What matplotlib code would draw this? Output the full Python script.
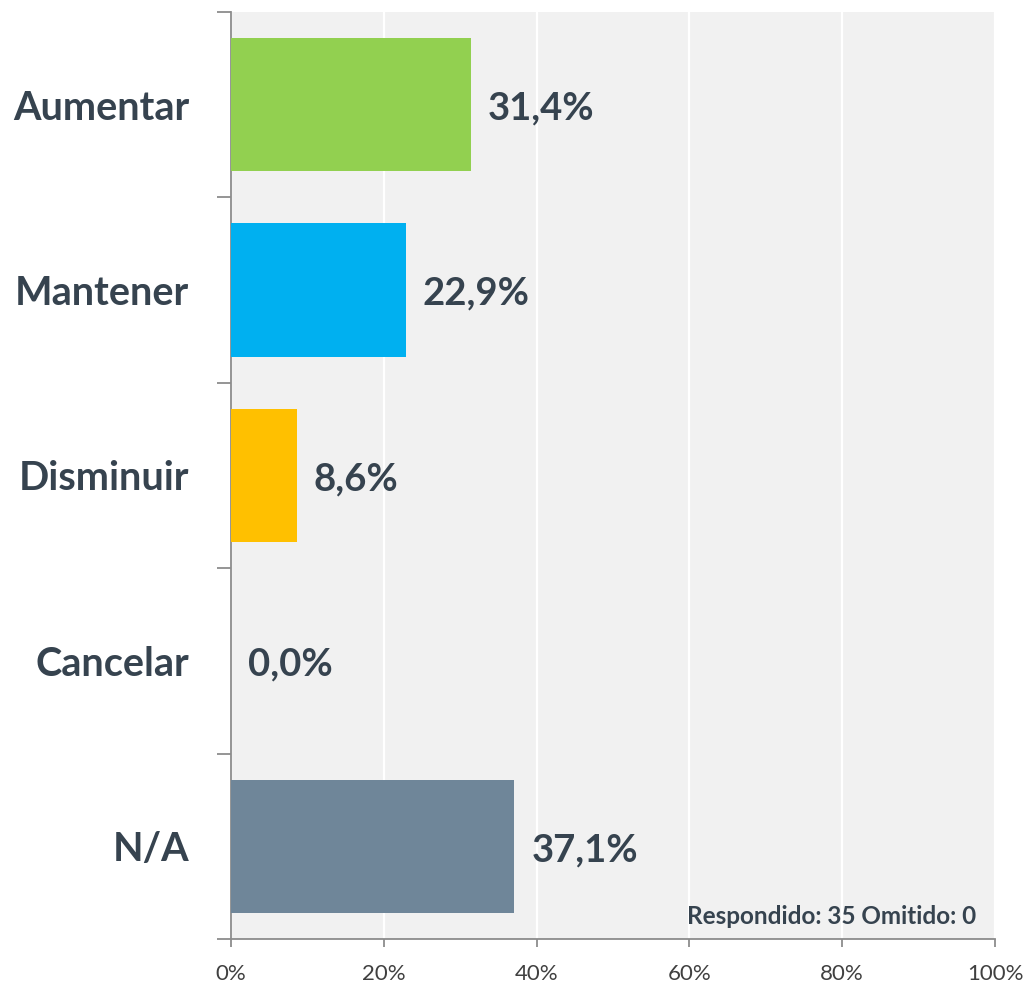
import matplotlib
matplotlib.use("Agg")
import matplotlib.pyplot as plt
import numpy as np

# Survey answers and their shares (percent)
categories = ["Aumentar", "Mantener", "Disminuir", "Cancelar", "N/A"]
values = [31.4, 22.9, 8.6, 0.0, 37.1]
colors = ["#92d050", "#00b0f0", "#ffc000", "#a0a0a0", "#6f8699"]
xticks = [0, 20, 40, 60, 80, 100]
note = "Respondido: 35 Omitido: 0"

text_color = "#36434f"
plt.rcParams['font.family'] = ['Lato', 'DejaVu Sans']

fig = plt.figure(figsize=(10.27, 9.84), dpi=100)
ax = fig.add_axes([231 / 1027, 1 - 939 / 984, (995 - 231) / 1027, (939 - 12) / 984])
ax.set_facecolor("#f1f1f1")

y = np.arange(len(categories))
ax.barh(y, values, height=0.72, color=colors, zorder=3)

for yi, v in zip(y, values):
    label = ("%.1f%%" % v).replace(".", ",")
    ax.text(v + 2.2, yi + 0.02, label, va="center", ha="left",
            fontsize=27.5, fontweight="bold", color=text_color, zorder=4)

ax.set_xlim(0, 100)
ax.set_ylim(len(categories) - 0.5, -0.5)
ax.set_xticks(xticks)
ax.set_xticklabels(["%d%%" % t for t in xticks], fontsize=16, color="#404040")
ax.tick_params(axis="x", direction="out", length=6, width=1.3, color="#8c8c8c", pad=12)

ax.set_yticks(y)
ax.set_yticklabels(categories, fontsize=28.5, fontweight="bold", color=text_color)
ax.tick_params(axis="y", which="major", length=0, pad=30)
ax.set_yticks(np.arange(-0.5, len(categories), 1.0), minor=True)
ax.tick_params(axis="y", which="minor", length=10, width=1.3, color="#8c8c8c")

ax.grid(axis="x", color="white", linewidth=1.6, zorder=1)
ax.set_axisbelow(True)
for side in ["top", "right"]:
    ax.spines[side].set_visible(False)
for side in ["left", "bottom"]:
    ax.spines[side].set_color("#8c8c8c")
    ax.spines[side].set_linewidth(1.3)

ax.text(97.5, 4.38, note, ha="right", va="center", fontsize=17.5,
        fontweight="bold", color=text_color, zorder=4)

fig.savefig("out.png", dpi=100)
